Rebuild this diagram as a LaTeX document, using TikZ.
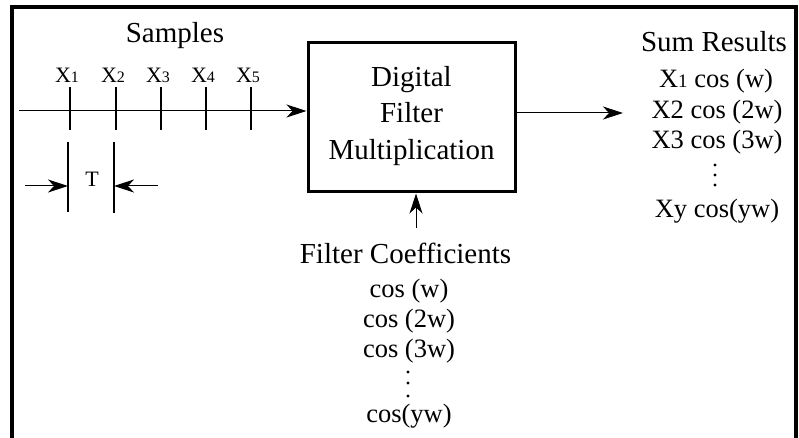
\documentclass[tikz,border=0pt]{standalone}
\usepackage{fontspec}
\setmainfont{Liberation Serif}
\usetikzlibrary{arrows.meta}
\tikzset{
  big/.style={font=\fontsize{29}{29}\selectfont, inner sep=0pt, anchor=base},
  small/.style={font=\fontsize{26.5}{26.5}\selectfont, inner sep=0pt, anchor=base},
  lbl/.style={font=\fontsize{22}{22}\selectfont, inner sep=0pt, anchor=base},
  dotmark/.style={circle, fill=black, inner sep=0pt, minimum size=3.2pt},
  tip/.style={-{Stealth[length=20pt,width=13pt,inset=6pt]}},
  thin/.style={line width=1pt},
  tick/.style={line width=2.6pt},
}
\newcommand{\sm}[1]{{\fontsize{16}{16}\selectfont #1}}
\newcommand{\smb}[1]{{\fontsize{19}{19}\selectfont #1}}
\begin{document}
\begin{tikzpicture}[x=1pt,y=-1pt]
\useasboundingbox (0,0) rectangle (799,438);
% frame
\draw[line width=4pt] (12,440) -- (12,7) -- (796,7) -- (796,440);
% samples
\node[big] (samples) at (175,43) {Samples};
\coordinate (axs) at (19,111);
\node[draw, line width=3pt, minimum width=207pt, minimum height=149pt, inner sep=0pt] (box) at (411.5,117.5) {};
\draw[thin, tip] (axs) -- (axs -| box.west);
\foreach \i/\x in {1/70,2/116,3/161,4/206,5/251}{
  \coordinate (t\i a) at (\x,87);
  \coordinate (t\i b) at (\x,130);
  \draw[tick] (t\i a) -- (t\i b);
  \node[lbl] (x\i) at (\x-3,83) {X\sm{\i}};
}
% T spacing
\coordinate (ta1) at (68,142); \coordinate (tb1) at (68,212);
\coordinate (ta2) at (114,142); \coordinate (tb2) at (114,213);
\draw[line width=2pt] (ta1) -- (tb1);
\draw[line width=2pt] (ta2) -- (tb2);
\coordinate (la) at (25,186); \coordinate (ra) at (158,186);
\draw[thin, tip] (la) -- (la -| ta1);
\draw[thin, tip] (ra) -- (ra -| ta2);
\node[font=\fontsize{22}{22}\selectfont, inner sep=0pt, anchor=base] (T) at (92,187) {T};
% box text
\node[big] (l1) at (411.5,87) {Digital};
\node[big] (l2) at (411.5,123) {Filter};
\node[big] (l3) at (411.5,160) {Multiplication};
% output
\coordinate (out) at (623,113);
\draw[thin, tip] (box.east |- out) -- (out);
\node[big] (sum) at (714,52) {Sum Results};
\node[small] (s1) at (716,88) {X\smb{1} cos (w)};
\node[small] (s2) at (717,119) {X2 cos (2w)};
\node[small] (s3) at (717,149) {X3 cos (3w)};
\node[dotmark] (sd1) at (715,165) {};
\node[dotmark] (sd2) at (715,175) {};
\node[dotmark] (sd3) at (715,185) {};
\node[small] (s7) at (717,218) {Xy cos(yw)};
% filter coefficients
\node[big] (fc) at (405.5,263) {Filter Coefficients};
\coordinate (up) at (416,228);
\draw[thin, tip] (up) -- (up |- box.south);
\node[small] (c1) at (409,297) {cos (w)};
\node[small] (c2) at (409,327) {cos (2w)};
\node[small] (c3) at (409,357) {cos (3w)};
\node[dotmark] (cd1) at (408,372) {};
\node[dotmark] (cd2) at (408,383) {};
\node[dotmark] (cd3) at (408,396) {};
\node[small] (c7) at (409,422) {cos(yw)};
\end{tikzpicture}
\end{document}
